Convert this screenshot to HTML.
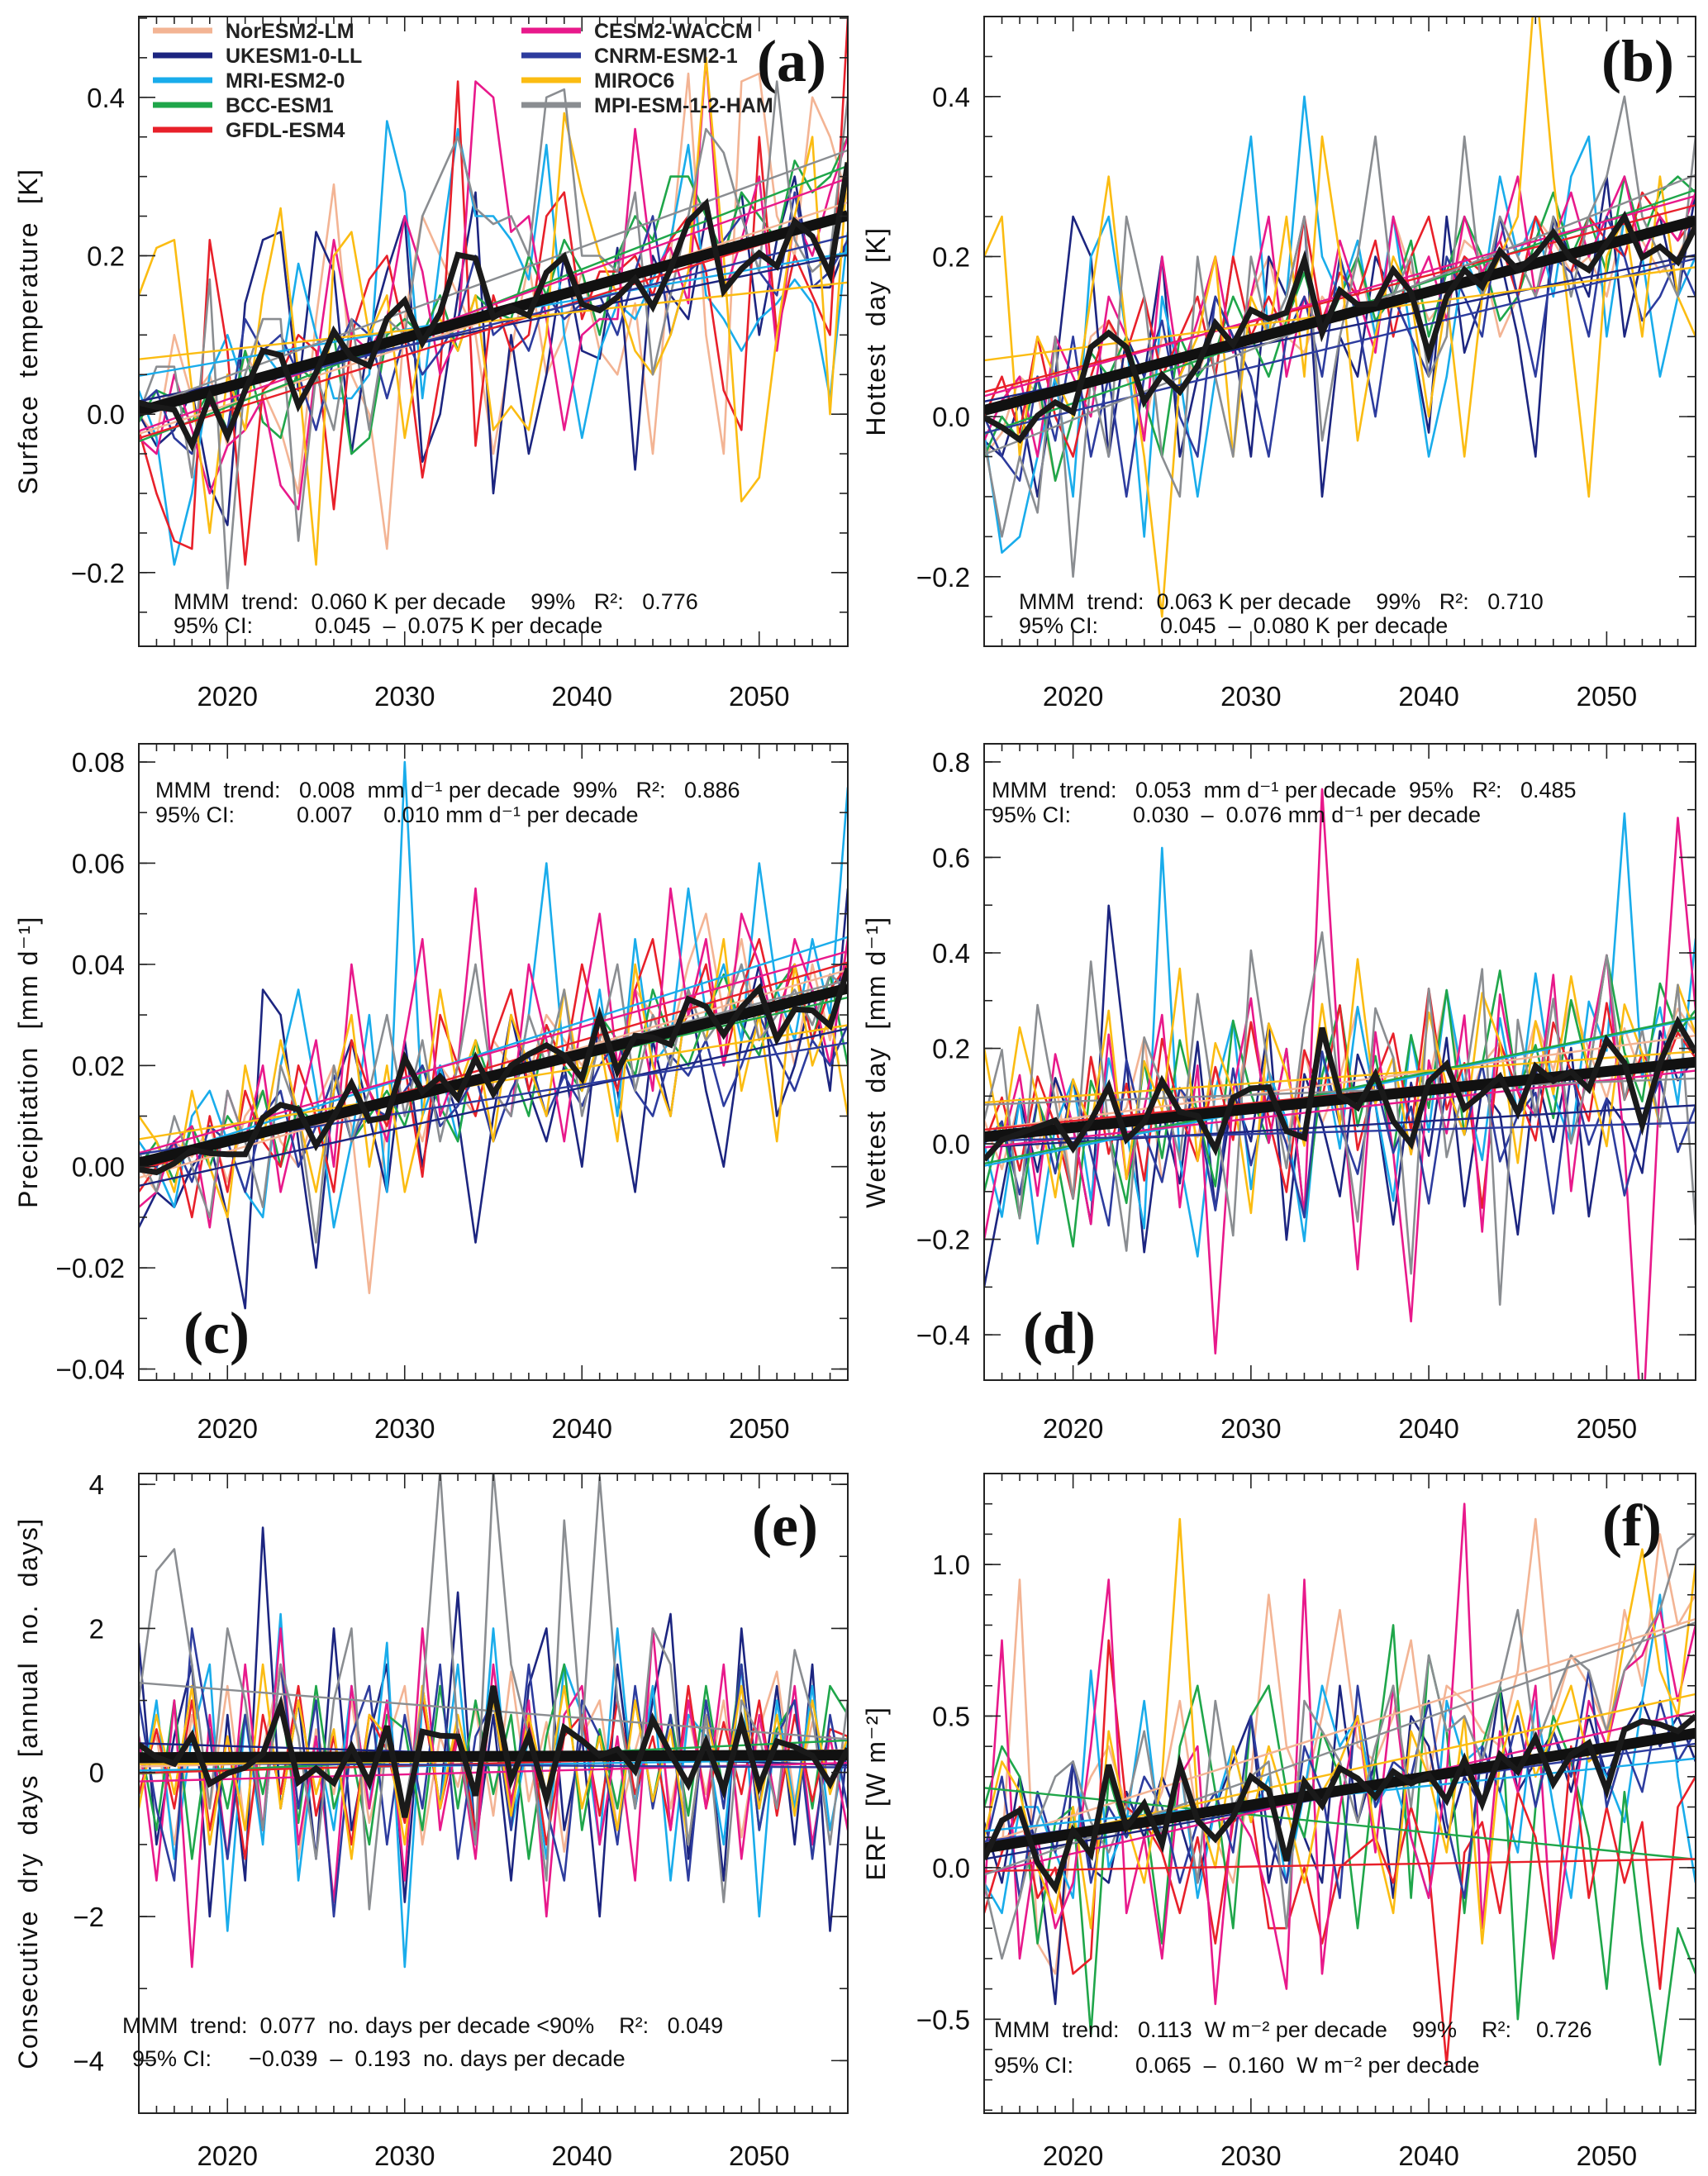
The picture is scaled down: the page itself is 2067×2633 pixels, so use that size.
<!DOCTYPE html>
<html><head><meta charset="utf-8"><style>
html,body{margin:0;padding:0;background:#fff}
svg{display:block;font-family:"Liberation Sans",sans-serif}
</style></head><body>
<svg id="fig" xmlns="http://www.w3.org/2000/svg" width="2067" height="2633" viewBox="0 0 2067 2633"></svg>
<script>
// ---------- data ----------
const years = [];for(let y=2015;y<=2055;y++)years.push(y);
const modelNames = ["NorESM2-LM","UKESM1-0-LL","MRI-ESM2-0","BCC-ESM1","GFDL-ESM4","CESM2-WACCM","CNRM-ESM2-1","MIROC6","MPI-ESM-1-2-HAM"];
const modelColors = ["#f3b494","#1c2580","#19aceb","#1fa64a","#e8202a","#e8198b","#2d3c9e","#fbbc12","#8a8d91"];
const xTicks = [2020,2030,2040,2050];

// panel a (x0.01 K)
const aNor=[0,-3,10,2,5,-4,8,3,-2,-10,12,29,5,0,-17,12,25,20,15,10,-5,8,19,5,10,18,8,5,14,-5,20,43,10,-5,42,43,25,20,40,35,27];
const aUK=[0,-4,-2,3,-9,-14,14,22,23,3,23,18,-5,10,18,25,-6,0,15,28,-10,10,-5,5,20,8,7,21,-7,20,15,12,25,20,28,10,22,30,16,16,22];
const aMRI=[3,-3,-19,-10,5,10,3,8,5,19,10,2,2,5,37,28,2,20,36,25,25,22,17,34,10,-3,8,14,12,17,22,34,15,12,8,12,14,17,14,2,23];
const aBCC=[-1,3,2,-1,3,-2,8,-1,-3,6,4,10,-5,-3,10,12,10,15,8,15,13,12,20,15,22,18,10,20,25,22,30,30,25,20,28,25,22,32,28,30,35];
const aGFDL=[-2,-10,-16,-17,22,8,-19,3,5,10,8,-12,10,17,20,10,-8,5,42,-4,15,8,10,25,28,12,18,18,20,15,22,25,18,3,-2,35,10,20,15,10,50];
const aCESM=[-3,-5,5,-2,-10,-4,-2,2,-9,-12,6,22,10,8,12,25,18,5,10,42,40,23,25,12,-2,10,12,12,36,18,21,14,45,15,22,30,8,25,20,28,35];
const aCNRM=[1,3,-3,-5,2,-2,12,8,10,5,-2,7,12,10,2,10,5,8,12,20,10,12,8,15,12,14,15,10,18,25,10,18,20,22,25,18,15,28,16,18,22];
const aMIROC=[15,21,22,3,-15,5,-2,15,26,5,-19,20,23,10,15,-3,10,12,8,15,-2,1,-2,10,38,28,20,15,8,5,10,18,45,20,-11,-8,10,25,35,0,32];
const aMPI=[0,6,6,-8,17,-22,5,12,12,-16,5,-2,12,-2,12,10,25,30,35,26,24,25,20,40,41,20,20,18,28,5,15,25,36,33,25,18,42,22,18,20,40];
// panel b (x0.01 K)
const bNor=[-5,-2,5,3,-8,0,10,12,5,-2,10,8,5,12,8,15,20,10,8,15,12,20,10,25,18,12,15,22,20,10,15,25,22,18,20,15,25,22,18,20,25];
const bUK=[-3,-5,2,-10,5,25,20,-5,10,5,20,-5,5,15,10,-5,20,15,25,-10,10,5,20,15,10,-2,25,8,15,20,10,-5,25,20,15,30,10,20,25,15,28];
const bMRI=[-2,-17,-15,-5,5,-10,20,25,10,-15,15,5,-10,5,20,35,10,15,40,20,15,22,10,25,10,-5,5,20,15,30,20,25,15,30,35,10,25,20,5,15,20];
const bBCC=[-5,0,-3,5,-8,0,8,5,10,2,-5,10,5,8,15,10,5,12,18,10,15,20,12,15,22,10,18,25,20,12,15,22,28,20,25,18,30,22,28,30,28];
const bGFDL=[0,5,-2,10,0,-5,5,12,8,15,5,10,15,5,20,10,15,10,25,12,18,15,22,10,20,25,15,20,18,22,15,25,20,18,25,22,20,28,25,22,25];
const bCESM=[-3,2,5,-5,10,5,0,15,10,-3,20,5,12,20,8,15,25,5,15,10,22,15,8,25,15,20,12,25,18,22,30,15,22,28,20,25,30,20,25,22,28];
const bCNRM=[0,-5,-8,5,-3,10,-5,5,-10,5,12,0,-5,15,10,5,-5,10,15,5,20,12,0,15,10,5,20,15,10,25,15,5,20,18,10,25,20,12,15,20,15];
const bMIROC=[20,25,-5,10,5,0,15,30,10,-5,-25,5,10,20,-5,15,10,25,5,35,20,-3,10,20,15,0,15,-5,15,20,25,55,30,10,-10,20,25,10,30,15,10];
const bMPI=[-3,-15,-5,-12,10,-20,5,-5,25,15,-5,-10,20,5,-5,20,10,15,25,-3,10,20,35,15,20,5,10,35,15,25,20,15,25,15,25,30,40,25,20,15,35];
// panel c (x0.001 mm/d)
const cNor=[0,-5,5,2,8,-3,10,15,5,0,12,20,8,-25,10,15,5,20,15,10,25,20,18,30,25,20,28,15,35,30,25,40,50,30,45,25,35,20,40,25,45];
const cUK=[-12,-5,-8,0,5,-10,-28,35,30,5,-20,15,25,10,-5,25,0,20,10,-15,10,30,15,5,20,0,30,15,-5,25,10,35,15,0,25,40,10,20,35,15,55];
const cMRI=[5,0,-8,10,15,5,-5,-10,20,35,15,-12,5,30,-5,80,10,20,5,25,15,10,30,60,20,15,35,10,45,20,25,55,30,40,25,60,35,25,45,30,75];
const cBCC=[0,5,-3,8,0,10,5,15,0,12,8,18,5,10,15,8,20,12,5,25,15,20,10,28,20,15,30,25,18,35,25,20,30,38,28,22,35,40,25,38,20];
const cGFDL=[-5,0,5,-10,10,-5,15,5,0,20,10,-5,25,15,8,20,-2,30,20,10,25,35,15,28,20,40,25,15,35,45,25,30,40,20,35,45,30,40,25,35,40];
const cCESM=[-8,-5,5,8,-12,15,5,20,-5,10,25,0,40,15,5,25,45,10,20,55,15,10,40,25,5,30,50,20,35,15,55,30,45,20,50,40,25,45,35,20,45];
const cCNRM=[2,0,5,-3,8,5,-5,10,15,0,8,18,5,12,10,15,20,8,12,18,5,15,22,10,18,12,20,25,15,10,22,18,25,12,20,30,22,15,25,20,28];
const cMIROC=[10,5,-5,15,0,-10,20,5,25,10,-5,15,30,0,20,-5,10,35,15,25,5,30,20,10,35,15,25,5,40,20,10,35,25,45,15,30,5,40,20,30,10];
const cMPI=[3,-5,10,0,-10,15,5,-8,20,10,-15,20,5,15,30,10,25,5,20,40,15,10,30,20,35,10,25,40,15,30,20,35,25,30,40,25,30,35,28,38,35];
// panel d (x0.01 mm/d)
const dNor=[5,-5,10,0,15,-10,20,5,10,25,-5,15,5,20,10,30,15,5,25,10,20,35,15,25,5,20,40,15,25,30,20,35,25,40,30,20,35,25,30,40,35];
const dUK=[-30,-10,10,-5,15,5,-15,52,20,-20,10,-5,25,-10,15,5,30,-15,20,10,-5,25,15,-10,20,5,30,-5,20,15,-10,25,10,30,-5,20,15,5,35,25,30];
const dMRI=[0,-15,10,-20,5,15,-10,20,5,-15,65,0,-20,15,30,-5,20,10,-15,25,5,35,15,-5,30,10,40,20,5,35,15,45,20,10,40,30,80,25,40,20,55];
const dBCC=[-10,5,-15,10,0,-20,15,5,-10,20,0,25,10,-5,30,15,5,25,-10,20,35,10,25,5,30,15,40,10,25,45,20,30,15,40,25,50,30,20,45,35,40];
const dGFDL=[0,10,-5,15,5,-10,20,0,15,-5,25,10,0,20,5,30,10,-5,25,15,35,5,20,30,10,40,15,25,-5,30,20,10,35,25,15,40,20,30,25,35,30];
const dCESM=[-20,0,15,-10,20,5,-15,25,-5,10,30,-10,20,-40,15,35,5,25,-10,80,20,-20,30,5,-30,25,10,35,-10,40,20,15,45,0,30,50,10,-50,25,80,40];
const dCNRM=[0,5,-10,10,-5,15,0,-15,20,5,-5,15,10,-10,20,0,15,5,-10,25,10,0,20,5,15,-5,20,10,25,5,15,20,-5,25,10,20,0,15,25,10,20];
const dMIROC=[20,0,25,10,-10,15,5,30,-5,20,10,40,0,25,15,-10,30,20,5,35,10,45,15,25,5,35,20,10,40,30,5,35,20,45,25,10,40,30,15,45,35];
const dMPI=[5,20,-15,30,10,-10,40,5,-20,25,15,0,35,10,-15,45,20,0,30,50,15,-10,35,25,-20,40,5,20,45,-25,35,15,40,10,25,50,20,35,15,45,-5];
// panel e (x0.1 days)
const eNor=[0,5,-10,8,-5,12,-8,3,15,-12,6,-3,10,-7,4,12,-10,5,-2,9,-6,14,-4,7,-11,5,10,-8,3,12,-5,8,-3,10,-9,6,14,-4,7,-2,5];
const eUK=[18,-10,5,15,-20,8,-15,34,-5,10,-12,20,-8,5,15,-18,12,-5,25,-10,8,-15,12,20,-8,5,-20,15,-5,10,22,-12,8,-15,20,-5,12,-10,15,-22,5];
const eMRI=[-5,10,-12,5,15,-22,8,-10,22,-15,5,-8,12,-5,18,-27,10,-5,15,-10,20,-8,5,-12,15,8,-10,20,-5,12,-15,8,5,-10,15,-20,10,-5,12,-8,5];
const eBCC=[5,-8,10,-12,6,-5,8,-3,10,-7,12,-5,3,-10,8,6,-8,12,-5,10,-3,8,-12,5,15,-8,6,-5,10,-4,8,-6,12,-3,15,-8,6,10,-5,12,8];
const eGFDL=[-3,6,-5,10,-8,5,-12,8,-3,12,-6,5,-10,8,3,-7,10,-5,6,-8,12,-4,7,-10,5,8,-6,10,-3,5,-8,12,-5,7,-3,10,-6,8,-4,6,5];
const eCESM=[5,-15,10,-27,8,-12,15,-8,20,-10,5,-18,12,-5,10,-15,20,-8,5,-12,15,-5,10,-20,8,12,-10,5,-15,20,-8,10,-5,15,-12,8,-5,12,-10,5,-8];
const eCNRM=[10,-5,-15,20,5,-12,8,-8,15,-5,10,-20,5,12,-10,8,-5,15,-12,5,10,-8,15,-5,-15,10,5,-10,12,-5,8,-15,10,-5,15,-8,5,10,-12,8,-5];
const eMIROC=[-5,8,-3,12,-10,5,-8,15,-5,10,-3,6,-12,8,5,-10,12,-5,8,-3,10,-6,8,-3,12,-5,5,-8,10,-4,6,-10,8,-3,12,-5,8,-6,10,-3,5];
const eMPI=[10,28,31,15,-5,20,10,-8,15,5,-12,10,20,-19,5,-5,10,42,5,-10,42,15,5,-15,35,5,41,10,-5,20,15,-10,8,-18,10,5,-5,17,8,-10,10];
// panel f (x0.01 W m-2)
const fNor=[10,5,95,-25,-35,15,30,40,20,10,25,55,15,10,-5,30,90,40,25,50,85,40,35,50,75,30,60,55,45,40,65,115,50,70,60,45,85,60,110,80,90];
const fUK=[15,-5,30,5,-45,35,0,-5,25,10,30,15,-5,20,35,50,-5,25,10,-5,60,15,35,-10,50,40,10,30,20,60,25,35,45,25,50,30,45,55,40,50,35];
const fMRI=[-5,-15,20,20,5,-10,65,0,15,55,5,35,-10,20,40,15,30,-5,25,60,40,50,20,30,10,-10,55,35,40,25,5,55,20,-10,40,30,15,55,90,30,-5];
const fBCC=[20,40,30,-25,15,20,-55,30,10,20,-25,40,60,25,-20,50,60,25,10,45,30,-20,35,80,-10,70,45,-15,40,60,-50,20,50,35,10,-40,25,-25,-65,-20,-35];
const fGFDL=[-15,5,20,-10,0,-35,-30,75,20,15,5,-15,10,-25,15,20,-20,-20,0,-25,0,5,10,-5,20,0,-65,5,15,-15,25,10,-30,40,-10,20,-5,15,-40,20,30];
const fCESM=[-10,75,-30,10,-20,-5,40,95,-15,10,-30,30,40,-45,20,10,-10,-40,95,-35,20,50,5,60,10,-10,30,120,-20,45,25,60,-30,15,55,40,65,70,85,55,80];
const fCNRM=[5,30,-10,25,5,35,-5,20,10,30,20,-5,15,25,5,50,10,-5,40,25,-10,60,20,35,30,55,15,-10,40,25,50,20,45,30,65,20,40,25,55,35,45];
const fMIROC=[10,35,25,0,-15,20,-20,45,15,-5,30,115,20,0,40,15,40,20,-5,25,35,50,10,-15,45,30,5,50,-25,35,55,30,45,60,35,40,75,105,65,50,100];
const fMPI=[-5,-30,-10,15,30,35,15,5,20,45,10,35,-5,55,20,30,35,-20,55,45,35,15,40,60,20,70,45,50,35,60,85,40,55,70,65,45,65,75,85,105,110];

const aTicks=[-0.2,0.0,0.2,0.4], bTicks=[-0.2,0.0,0.2,0.4], cTicks=[-0.04,-0.02,0.00,0.02,0.04,0.06,0.08];
const dTicks=[-0.4,-0.2,0.0,0.2,0.4,0.6,0.8], eTicks=[-4,-2,0,2,4], fTicks=[-0.5,0.0,0.5,1.0];

// ---------- drawing ----------
const NS="http://www.w3.org/2000/svg";
const svg=document.getElementById('fig');
function mk(tag,attrs,parent){const e=document.createElementNS(NS,tag);for(const k in attrs)e.setAttribute(k,attrs[k]);(parent||svg).appendChild(e);return e;}

const panels=[
 {id:'a',x0:168,x1:1026,y0:20,y1:782,lab:841,ymin:-0.293,ymax:0.502,sc:0.01,ticks:aTicks,dec:1,minor:0.05,tl:17,
  series:[aNor,aUK,aMRI,aBCC,aGFDL,aCESM,aCNRM,aMIROC,aMPI],title:'Surface  temperature  [K]',tx:34,letter:'(a)',lx:958,ly:98,
  txt:['MMM  trend:  0.060 K per decade    99%   R²:   0.776','95% CI:          0.045  –  0.075 K per decade'],tpx:[210,210],tpy:[737,766]},
 {id:'b',x0:1191,x1:2052,y0:20,y1:782,lab:841,ymin:-0.287,ymax:0.50,sc:0.01,ticks:bTicks,dec:1,minor:0.05,tl:17,
  series:[bNor,bUK,bMRI,bBCC,bGFDL,bCESM,bCNRM,bMIROC,bMPI],title:'Hottest  day  [K]',tx:1060,letter:'(b)',lx:1982,ly:98,
  txt:['MMM  trend:  0.063 K per decade    99%   R²:   0.710','95% CI:          0.045  –  0.080 K per decade'],tpx:[1233,1233],tpy:[737,766]},
 {id:'c',x0:168,x1:1026,y0:900,y1:1670,lab:1727,ymin:-0.0422,ymax:0.0836,sc:0.001,ticks:cTicks,dec:2,minor:0.01,tl:17,
  series:[cNor,cUK,cMRI,cBCC,cGFDL,cCESM,cCNRM,cMIROC,cMPI],title:'Precipitation  [mm d⁻¹]',tx:34,letter:'(c)',lx:262,ly:1637,
  txt:['MMM  trend:   0.008  mm d⁻¹ per decade  99%   R²:   0.886','95% CI:          0.007     0.010 mm d⁻¹ per decade'],tpx:[188,188],tpy:[965,995]},
 {id:'d',x0:1191,x1:2052,y0:900,y1:1670,lab:1727,ymin:-0.495,ymax:0.838,sc:0.01,ticks:dTicks,dec:1,minor:0.1,drift:-0.003,tl:17,
  series:[dNor,dUK,dMRI,dBCC,dGFDL,dCESM,dCNRM,dMIROC,dMPI],title:'Wettest  day  [mm d⁻¹]',tx:1060,letter:'(d)',lx:1282,ly:1637,
  txt:['MMM  trend:   0.053  mm d⁻¹ per decade  95%   R²:   0.485','95% CI:          0.030  –  0.076 mm d⁻¹ per decade'],tpx:[1200,1200],tpy:[965,995]},
 {id:'e',x0:168,x1:1026,y0:1783,y1:2557,lab:2607,ymin:-4.73,ymax:4.15,sc:0.1,ticks:eTicks,dec:0,minor:1,tl:42,
  series:[eNor,eUK,eMRI,eBCC,eGFDL,eCESM,eCNRM,eMIROC,eMPI],title:'Consecutive  dry  days  [annual  no.  days]',tx:34,letter:'(e)',lx:950,ly:1870,
  txt:['MMM  trend:  0.077  no. days per decade <90%    R²:   0.049','95% CI:      −0.039  –  0.193  no. days per decade'],tpx:[148,160],tpy:[2460,2500]},
 {id:'f',x0:1191,x1:2052,y0:1783,y1:2557,lab:2607,ymin:-0.81,ymax:1.30,sc:0.01,ticks:fTicks,dec:1,minor:0.1,tl:17,
  series:[fNor,fUK,fMRI,fBCC,fGFDL,fCESM,fCNRM,fMIROC,fMPI],title:'ERF  [W m⁻²]',tx:1060,letter:'(f)',lx:1975,ly:1870,
  txt:['MMM  trend:   0.113  W m⁻² per decade    99%    R²:    0.726','95% CI:          0.065  –  0.160  W m⁻² per decade'],tpx:[1203,1203],tpy:[2465,2508]}
];

function fit(xs,ys){const n=xs.length;let mx=0,my=0;for(let i=0;i<n;i++){mx+=xs[i];my+=ys[i];}mx/=n;my/=n;let sxy=0,sxx=0;for(let i=0;i<n;i++){sxy+=(xs[i]-mx)*(ys[i]-my);sxx+=(xs[i]-mx)**2;}const b=sxy/sxx;return {b:b,a:my-b*mx};}
function fmt(v,d){let s=v.toFixed(d);if(v<0)s='−'+(-v).toFixed(d);return s;}

panels.forEach(p=>{
  const g=mk('g',{});
  
  
  const X=yr=>p.x0+(yr-2015)/(2055-2015)*(p.x1-p.x0);
  const Y=v=>p.y1-(v-p.ymin)/(p.ymax-p.ymin)*(p.y1-p.y0);
  const cp=mk('clipPath',{id:'clip'+p.id},g);
  mk('rect',{x:p.x0,y:p.y0,width:p.x1-p.x0,height:p.y1-p.y0},cp);
  const plot=mk('g',{'clip-path':'url(#clip'+p.id+')'},g);
  const dr=p.drift||0;
  const vals=p.series.map(s=>s.map((v,i)=>v*p.sc+dr*i));
  vals.forEach((s,k)=>{
    const pl=mk('polyline',{points:s.map((v,i)=>X(years[i]).toFixed(1)+','+Y(v).toFixed(1)).join(' '),fill:'none',stroke:modelColors[k],'stroke-width':2.6,'stroke-linejoin':'round'},plot);
    
    
  });
  vals.forEach((s,k)=>{
    const f=fit(years,s);
    const ln=mk('line',{x1:X(2015),y1:Y(f.a+f.b*2015),x2:X(2055),y2:Y(f.a+f.b*2055),stroke:modelColors[k],'stroke-width':2.4},plot);
    
    
  });
  const mmm=years.map((y,i)=>vals.reduce((s,a)=>s+a[i],0)/vals.length);
  const fm=fit(years,mmm);
  const tl=mk('line',{x1:X(2015),y1:Y(fm.a+fm.b*2015),x2:X(2055),y2:Y(fm.a+fm.b*2055),stroke:'#111','stroke-width':13},plot);
  
  
  const ml=mk('polyline',{points:mmm.map((v,i)=>X(years[i]).toFixed(1)+','+Y(v).toFixed(1)).join(' '),fill:'none',stroke:'#1a1a1a','stroke-width':7,'stroke-linejoin':'miter'},plot);
  
  
  const fr=mk('rect',{x:p.x0,y:p.y0,width:p.x1-p.x0,height:p.y1-p.y0,fill:'none',stroke:'#222','stroke-width':2},g);
  
  
  years.forEach(yr=>{const big=yr%10==0;const L=big?18:9;
    mk('line',{x1:X(yr),x2:X(yr),y1:p.y1,y2:p.y1-L,stroke:'#222','stroke-width':1.6},g);
    mk('line',{x1:X(yr),x2:X(yr),y1:p.y0,y2:p.y0+L,stroke:'#222','stroke-width':1.6},g);});
  xTicks.forEach(yr=>{const t=mk('text',{x:X(yr),y:p.lab+13,'text-anchor':'middle','font-size':33,fill:'#111'},g);t.textContent=yr;
    
    });
  for(let v=Math.ceil(p.ymin/p.minor)*p.minor;v<=p.ymax;v+=p.minor){const yy=Y(v);
    mk('line',{x1:p.x0,x2:p.x0+10,y1:yy,y2:yy,stroke:'#222','stroke-width':1.6},g);
    mk('line',{x1:p.x1,x2:p.x1-10,y1:yy,y2:yy,stroke:'#222','stroke-width':1.6},g);}
  p.ticks.forEach(v=>{const yy=Y(v);
    mk('line',{x1:p.x0,x2:p.x0+20,y1:yy,y2:yy,stroke:'#222','stroke-width':1.6},g);
    mk('line',{x1:p.x1,x2:p.x1-20,y1:yy,y2:yy,stroke:'#222','stroke-width':1.6},g);
    const t=mk('text',{x:p.x0-p.tl,y:yy+12,'text-anchor':'end','font-size':33,fill:'#111'},g);t.textContent=fmt(v,p.dec);
    
    });
  const yc=(p.y0+p.y1)/2;
  const yt=mk('text',{x:p.tx,y:yc,transform:'rotate(-90 '+p.tx+' '+yc+')','text-anchor':'middle','dominant-baseline':'central','font-size':32,'letter-spacing':'1.5',fill:'#111',style:'white-space:pre'},g);
  yt.textContent=p.title;
  
  
  p.txt.forEach((s,i)=>{const t=mk('text',{x:p.tpx[i],y:p.tpy[i],'font-size':27,fill:'#111',style:'white-space:pre'},g);t.textContent=s;
    
    });
  const L=mk('text',{x:p.lx,y:p.ly,'text-anchor':'middle','font-family':'Liberation Serif, serif','font-weight':'bold','font-size':72,fill:'#111'},g);
  L.textContent=p.letter;
  
  
});

const lg=mk('g',{});


modelNames.forEach((n,k)=>{
  const col=k<5?0:1, row=k<5?k:k-5;
  const lx=col?631:185, ty=row*30+46;
  const ln=mk('line',{x1:lx,x2:lx+72,y1:ty-9,y2:ty-9,stroke:modelColors[k],'stroke-width':7},lg);
  
  
  const t=mk('text',{x:lx+88,y:ty,'font-size':25,'font-weight':'bold',fill:'#222'},lg);
  t.textContent=n;
  
  
});
</script>
</body></html>
